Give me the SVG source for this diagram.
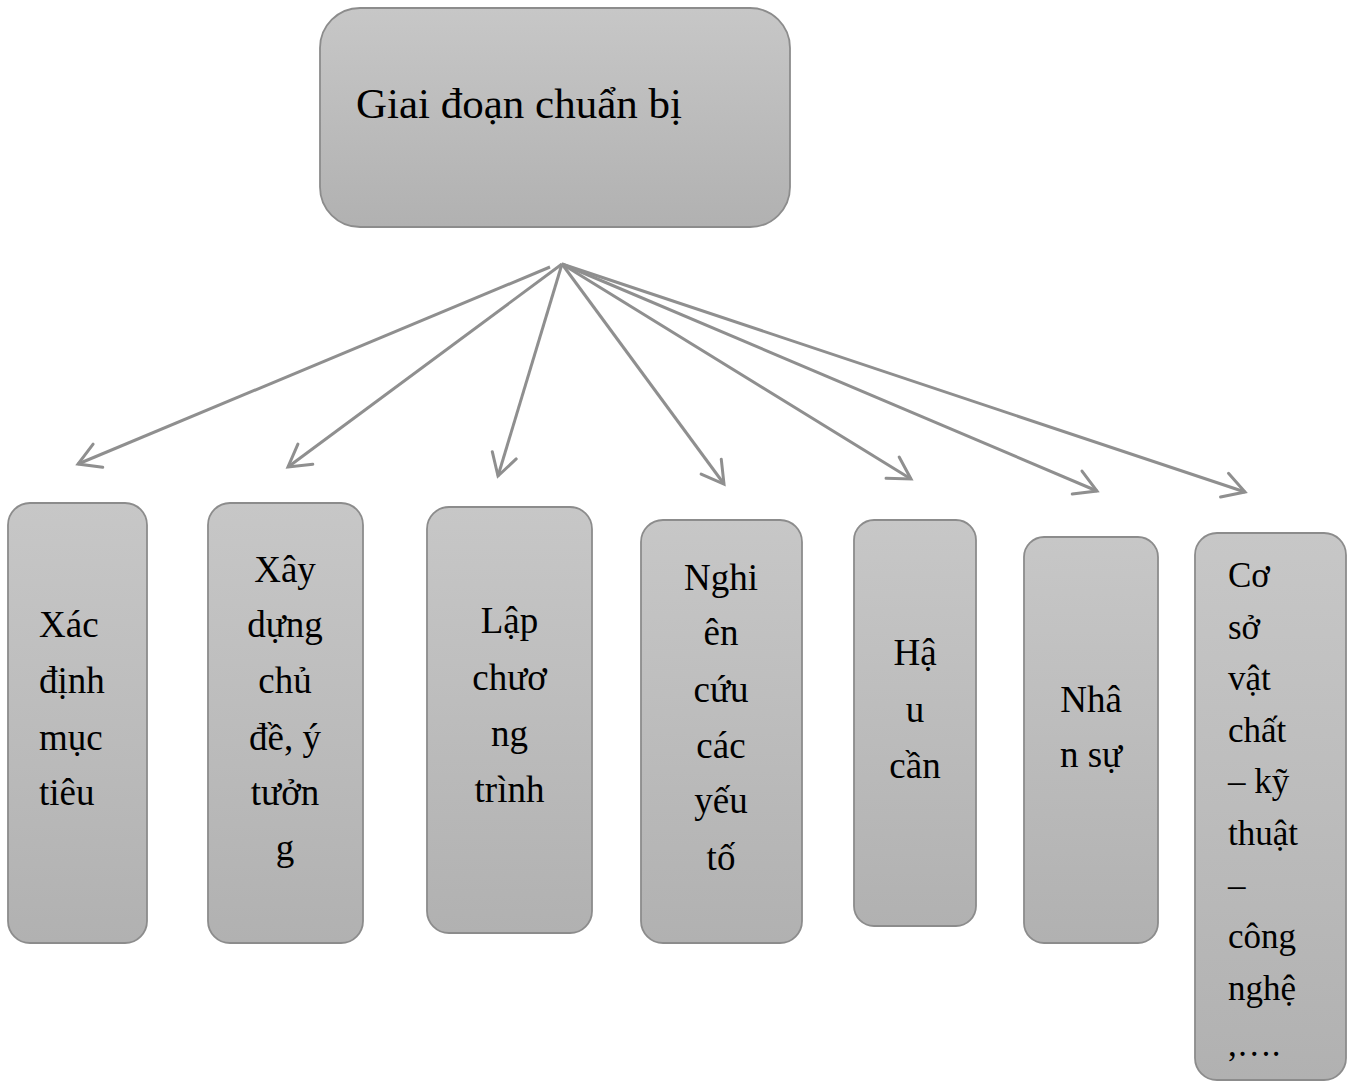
<svg xmlns="http://www.w3.org/2000/svg" width="1354" height="1083" viewBox="0 0 1354 1083">
<defs>
<linearGradient id="g" x1="0" y1="0" x2="0" y2="1">
<stop offset="0" stop-color="#c7c7c7"/>
<stop offset="1" stop-color="#b1b1b1"/>
</linearGradient>
<marker id="ah" markerUnits="userSpaceOnUse" markerWidth="40" markerHeight="40" viewBox="-30 -20 40 40" refX="0" refY="0" orient="auto">
<path d="M -21.6,-12.5 L 0,0 L -21.6,12.5" fill="none" stroke="#8f8f8f" stroke-width="3" stroke-linecap="round" stroke-linejoin="miter"/>
</marker>
<style>
.box{fill:url(#g);stroke:#8c8c8c;stroke-width:1.8}
.t{font-family:"Liberation Serif","Times New Roman",serif;font-size:37px;fill:#000}
.c{text-anchor:middle}
.conn line{stroke:#8f8f8f;stroke-width:3;marker-end:url(#ah)}
</style>
</defs>
<rect width="1354" height="1083" fill="#fff"/>
<g id="root">
<rect class="box" x="320" y="8" width="470" height="219" rx="40" ry="40"/>
<text class="t" x="356" y="118" style="font-size:43px">Giai đoạn chuẩn bị</text>
</g>
<g class="conn" id="connectors">
<line x1="550" y1="267" x2="78" y2="464"/>
<line x1="562" y1="264" x2="288" y2="467"/>
<line x1="562" y1="264" x2="498" y2="476"/>
<line x1="562" y1="264" x2="724" y2="484"/>
<line x1="562" y1="264" x2="911" y2="479"/>
<line x1="562" y1="264" x2="1097" y2="491"/>
<line x1="562" y1="264" x2="1245" y2="492"/>
</g>
<g id="n1">
<rect class="box" x="8" y="503" width="139" height="440" rx="22" ry="22"/>
<text class="t" x="39" y="637">Xác</text>
<text class="t" x="39" y="693">định</text>
<text class="t" x="39" y="750">mục</text>
<text class="t" x="39" y="805">tiêu</text>
</g>
<g id="n2">
<rect class="box" x="208" y="503" width="155" height="440" rx="22" ry="22"/>
<text class="t c" x="285" y="582">Xây</text>
<text class="t c" x="285" y="637">dựng</text>
<text class="t c" x="285" y="693">chủ</text>
<text class="t c" x="285" y="750">đề, ý</text>
<text class="t c" x="285" y="805">tưởn</text>
<text class="t c" x="285" y="860">g</text>
</g>
<g id="n3">
<rect class="box" x="427" y="507" width="165" height="426" rx="22" ry="22"/>
<text class="t c" x="509.5" y="633">Lập</text>
<text class="t c" x="509.5" y="690">chươ</text>
<text class="t c" x="509.5" y="746">ng</text>
<text class="t c" x="509.5" y="802">trình</text>
</g>
<g id="n4">
<rect class="box" x="641" y="520" width="161" height="423" rx="22" ry="22"/>
<text class="t c" x="721" y="590">Nghi</text>
<text class="t c" x="721" y="645">ên</text>
<text class="t c" x="721" y="702">cứu</text>
<text class="t c" x="721" y="758">các</text>
<text class="t c" x="721" y="813">yếu</text>
<text class="t c" x="721" y="870">tố</text>
</g>
<g id="n5">
<rect class="box" x="854" y="520" width="122" height="406" rx="20" ry="20"/>
<text class="t c" x="915" y="665">Hậ</text>
<text class="t c" x="915" y="722">u</text>
<text class="t c" x="915" y="778">cần</text>
</g>
<g id="n6">
<rect class="box" x="1024" y="537" width="134" height="406" rx="20" ry="20"/>
<text class="t c" x="1091" y="712">Nhâ</text>
<text class="t c" x="1091" y="767">n sự</text>
</g>
<g id="n7">
<rect class="box" x="1195" y="533" width="151" height="547" rx="22" ry="22"/>
<g class="t" style="font-size:35px">
<text x="1228" y="587">Cơ</text>
<text x="1228" y="639">sở</text>
<text x="1228" y="690">vật</text>
<text x="1228" y="742">chất</text>
<text x="1228" y="793">– kỹ</text>
<text x="1228" y="845">thuật</text>
<text x="1228" y="897">–</text>
<text x="1228" y="948">công</text>
<text x="1228" y="1000">nghệ</text>
<text x="1228" y="1056">,….</text>
</g>
</g>
</svg>
